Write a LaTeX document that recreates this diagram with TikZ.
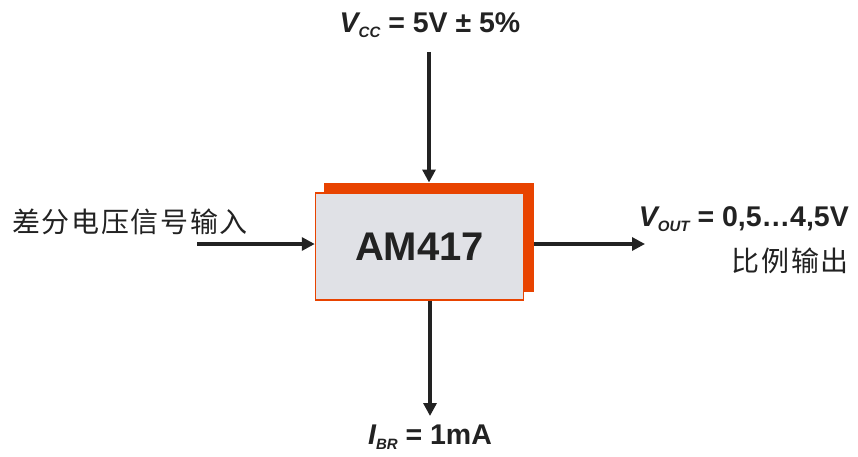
\documentclass[tikz,border=0pt]{standalone}
\usepackage{fontspec}
\setmainfont{Liberation Sans}
\newfontfamily\cjk[LetterSpace=6]{Noto Sans CJK SC}
\usetikzlibrary{arrows.meta,positioning}
\definecolor{amorange}{HTML}{E84300}
\definecolor{amgray}{HTML}{E0E1E6}
\definecolor{amdark}{HTML}{222222}
\newcommand{\sub}[1]{\raisebox{-0.35ex}{\fontsize{15}{15}\selectfont\itshape #1}}

\begin{document}
\begin{tikzpicture}[x=1pt,y=-1pt,
    arr/.style={line width=3.2pt,draw=amdark,-{Triangle[length=13pt,width=13pt]}},
    lbl/.style={font=\fontsize{28.5}{30}\selectfont\bfseries,text=amdark,inner sep=0pt},
    cn/.style={font=\cjk\fontsize{28}{30}\selectfont,text=amdark,inner sep=0pt}]
  \useasboundingbox (0,0) rectangle (858,457);

  % chip
  \node[fill=amorange,minimum width=210pt,minimum height=109pt,inner sep=0pt] (back) at (429,237.2) {};
  \node[fill=amgray,draw=amorange,line width=1.5pt,minimum width=208pt,minimum height=107pt,inner sep=0pt,
        font=\fontsize{40}{40}\selectfont\bfseries,text=amdark] (am) at (419.5,246.7) {AM417};

  % labels
  \node[lbl] (vcc) at (430,25) {\itshape V\sub{CC}\upshape{} = 5V ± 5\%};
  \node[lbl,anchor=east] (vout) at (849,219) {\itshape V\sub{OUT}\upshape{} = 0,5\dots4,5V};
  \node[cn,anchor=east] (prop) at (849,261) {比例输出};
  \node[cn,anchor=west] (input) at (12,222) {差分电压信号输入};
  \node[lbl] (ibr) at (430,437) {\itshape I\sub{BR}\upshape{} = 1mA};

  % connectors
  \coordinate (vin) at (429,52);
  \coordinate (lin) at (197,244);
  \coordinate (rout) at (645,244);
  \coordinate (bout) at (430,416);
  \draw[arr] (vin) -- (back.north);
  \draw[arr] (lin) -- (lin -| am.west);
  \draw[arr] (rout -| back.east) -- (rout);
  \draw[arr] (bout |- am.south) -- (bout);
\end{tikzpicture}
\end{document}
